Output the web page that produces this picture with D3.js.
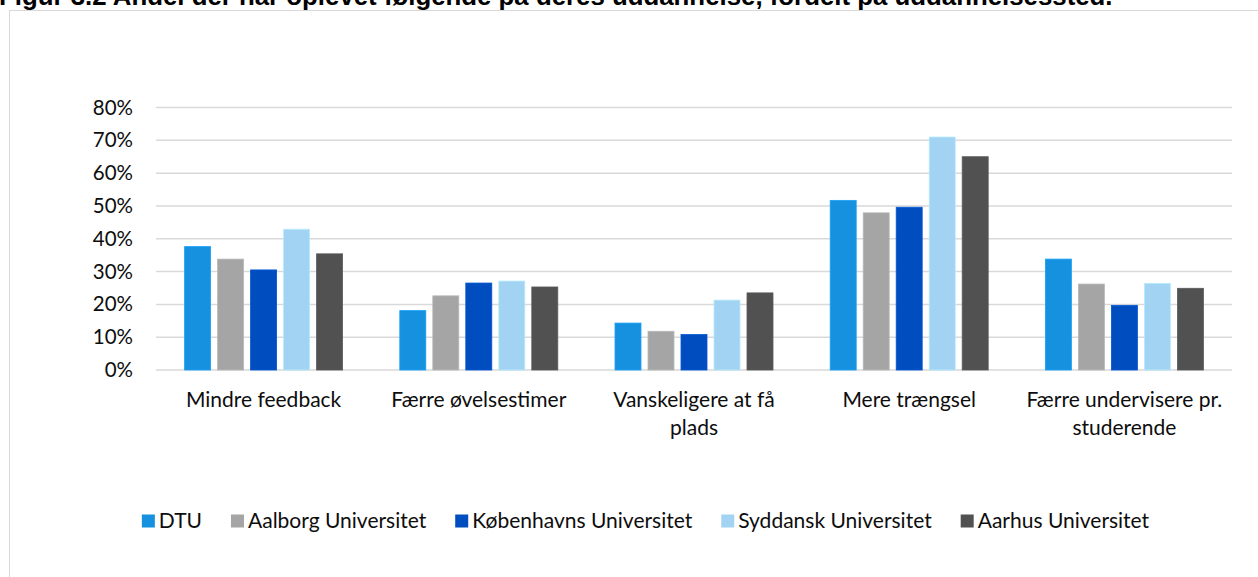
<!DOCTYPE html>
<html><head><meta charset="utf-8">
<script src="https://cdn.jsdelivr.net/npm/d3@7"></script>
<style>
html,body{margin:0;padding:0;background:#fff;overflow:hidden}
svg{display:block}
text{font-family:Lato,"Open Sans",sans-serif;fill:#0d0d0d}
</style></head>
<body>
<svg id="c" width="1258" height="577"></svg>
<script>
const titleText = "Figur 3.2 Andel der har oplevet følgende på deres uddannelse, fordelt på uddannelsessted.";
const categories = [
  ["Mindre feedback"],
  ["Færre øvelsestimer"],
  ["Vanskeligere at få", "plads"],
  ["Mere trængsel"],
  ["Færre undervisere pr.", "studerende"]
];
const seriesNames = ["DTU", "Aalborg Universitet", "Københavns Universitet", "Syddansk Universitet", "Aarhus Universitet"];
const seriesColors = ["#1591e0", "#a5a5a5", "#004dbf", "#a2d3f2", "#515151"];
const dtu      = [0.376, 0.181, 0.143, 0.517, 0.338];
const aalborg  = [0.338, 0.226, 0.118, 0.479, 0.262];
const koebenhavn = [0.305, 0.265, 0.108, 0.496, 0.197];
const syddansk = [0.429, 0.271, 0.213, 0.710, 0.264];
const aarhus   = [0.354, 0.253, 0.235, 0.650, 0.249];
const seriesValues = [dtu, aalborg, koebenhavn, syddansk, aarhus];
const yTicks = [0, 0.1, 0.2, 0.3, 0.4, 0.5, 0.6, 0.7, 0.8];

const svg = d3.select("#c");

// frame
svg.append("rect").attr("x", 9.5).attr("y", 10.5).attr("width", 1300).attr("height", 700)
  .attr("fill", "none").attr("stroke", "#d9d9d9").attr("stroke-width", 1);

// title (partially cut off at top, as in the reference)
const title = svg.append("text").attr("x", -1).attr("y", 5)
  .style("font-family", "'Liberation Sans', Arial, sans-serif")
  .style("font-weight", "bold").style("font-size", "18px").style("fill", "#000")
  .text(titleText);
const tw = title.node().getComputedTextLength();
title.style("font-size", (18 * 1114 / tw) + "px");

const x = d3.scaleBand().domain(d3.range(categories.length)).range([156, 1232]).paddingInner(0).paddingOuter(0);
const y = d3.scaleLinear().domain([0, 0.8]).range([370, 107.5]);
const xi = d3.scaleBand().domain(d3.range(seriesNames.length)).range([0, 158]).paddingInner(7 / 33).paddingOuter(0);

// gridlines
svg.append("g").selectAll("line").data(yTicks).join("line")
  .attr("x1", 156).attr("x2", 1232)
  .attr("y1", d => y(d)).attr("y2", d => y(d))
  .attr("stroke", "#d9d9d9").attr("stroke-width", 1.5);

// y axis labels
const yAxis = d3.axisLeft(y).tickValues(yTicks).tickFormat(d3.format(".0%")).tickSize(0).tickPadding(0);
const yg = svg.append("g").attr("transform", "translate(133,0)").call(yAxis);
yg.select(".domain").remove();
yg.selectAll("text").style("font-family", "Lato, sans-serif").style("font-size", "20.5px").attr("fill", "#0d0d0d");

// bars
const groups = svg.append("g").selectAll("g").data(categories).join("g")
  .attr("transform", (d, i) => `translate(${x(i) + (x.bandwidth() - 158) / 2},0)`);
groups.selectAll("rect").data((d, i) => seriesValues.map((s, k) => ({k, v: s[i]}))).join("rect")
  .attr("x", d => xi(d.k)).attr("width", xi.bandwidth())
  .attr("y", d => y(d.v)).attr("height", d => y(0) - y(d.v))
  .attr("fill", d => seriesColors[d.k])
  .attr("stroke", d => d3.color(seriesColors[d.k]).brighter(0.3)).attr("stroke-width", 0.8);

// x labels
const xl = svg.append("g").selectAll("text").data(categories).join("text")
  .attr("x", (d, i) => x(i) + x.bandwidth() / 2).attr("y", 407)
  .attr("text-anchor", "middle").style("font-size", "21px");
xl.selectAll("tspan").data(d => d).join("tspan")
  .attr("x", function() { return this.parentNode.getAttribute("x"); })
  .attr("dy", (d, i) => i === 0 ? 0 : 28).text(d => d);

// legend
const lg = svg.append("g");
const items = lg.selectAll("g").data(seriesNames).join("g");
items.append("rect").attr("width", 13).attr("height", 13).attr("y", -6.5).attr("fill", (d, i) => seriesColors[i]);
items.append("text").attr("x", 17).attr("dy", "0.35em").style("font-size", "21px").text(d => d);
const widths = [];
items.each(function() { widths.push(17 + d3.select(this).select("text").node().getComputedTextLength()); });
const gap = 29;
const total = d3.sum(widths) + gap * (widths.length - 1);
let cx = 645.5 - total / 2;
items.attr("transform", (d, i) => { const t = `translate(${cx},521)`; cx += widths[i] + gap; return t; });
</script>
</body></html>
